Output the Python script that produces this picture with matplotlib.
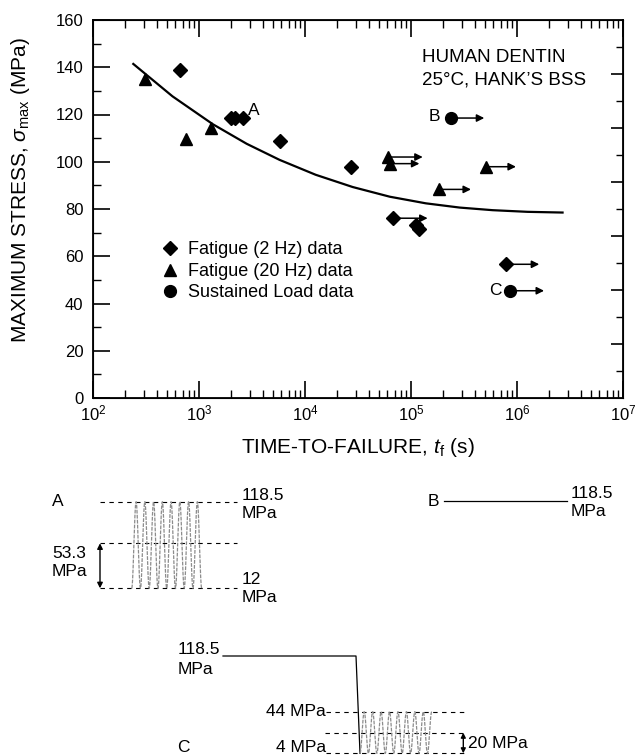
import numpy as np
import matplotlib
matplotlib.use('Agg')
import matplotlib.pyplot as plt
from matplotlib.lines import Line2D
from matplotlib.ticker import LogLocator, FixedLocator, NullFormatter, MultipleLocator

plt.rcParams['font.family'] = ['Liberation Sans', 'DejaVu Sans']
plt.rcParams['mathtext.fontset'] = 'custom'
plt.rcParams['mathtext.rm'] = 'Liberation Sans'
plt.rcParams['mathtext.it'] = 'Liberation Sans:italic'
plt.rcParams['mathtext.bf'] = 'Liberation Sans:bold'

# ---------------- data ----------------
fat2_t = [659, 2020, 2170, 2600, 5770, 27300, 67300, 112000, 120000, 787000]
fat2_s = [138.8, 118.5, 118.5, 118.5, 108.9, 97.6, 76.1, 73.2, 71.4, 56.6]

fat20_t = [309, 762, 1310, 61000, 64000, 185000, 509000]
fat20_s = [134.9, 109.5, 114.4, 102.0, 99.2, 88.3, 97.9]

sust_t = [238000, 858000]
sust_s = [118.5, 45.4]

# run-out arrows (start time, stress, end time)
runout_t = [67300, 787000, 61000, 64000, 185000, 509000, 238000, 858000]
runout_s = [76.1, 56.6, 102.0, 99.2, 88.3, 97.9, 118.5, 45.4]
runout_end = [143500, 1.62e6, 129000, 120000, 368000, 977000, 491000, 1.80e6]

# fitted curve
curve_t = [240, 562, 1349, 2818, 5754, 12589, 28184, 63096, 138038, 288403, 588844, 1.259e6, 2.69e6]
curve_s = [141.4, 127.7, 115.9, 107.6, 100.8, 94.5, 89.3, 85.2, 82.4, 80.6, 79.5, 78.8, 78.5]

point_labels = ['A', 'B', 'C']
point_label_t = [3280, 166000, 624000]
point_label_s = [121.5, 119.0, 45.4]

legend_labels = ['Fatigue (2 Hz) data', 'Fatigue (20 Hz) data', 'Sustained Load data']
x_ticks = [1e2, 1e3, 1e4, 1e5, 1e6, 1e7]
y_ticks = [0, 20, 40, 60, 80, 100, 120, 140, 160]

# ---------------- figure ----------------
W, H = 635, 756
fig = plt.figure(figsize=(W / 100, H / 100), dpi=100)

# schematic overlay in pixel coordinates
sk = fig.add_axes([0, 0, 1, 1])
sk.set_xlim(0, W)
sk.set_ylim(H, 0)
sk.axis('off')

ax = fig.add_axes([93 / W, 1 - 398 / H, 530 / W, 378 / H])
ax.set_xscale('log')
ax.set_xlim(1e2, 1e7)
ax.set_ylim(0, 160)

ax.plot(curve_t, curve_s, color='k', lw=1.6, zorder=2, solid_joinstyle='round')
ax.plot(fat2_t, fat2_s, ls='none', marker='D', ms=7, color='k', zorder=3)
ax.plot(fat20_t, fat20_s, ls='none', marker='^', ms=9, color='k', zorder=3)
ax.plot(sust_t, sust_s, ls='none', marker='o', ms=8.5, color='k', zorder=3)

for t0, s, t1 in zip(runout_t, runout_s, runout_end):
    ax.annotate('', xy=(t1, s), xytext=(t0, s),
                arrowprops=dict(arrowstyle='-|>', color='k', lw=1.1,
                                mutation_scale=11, shrinkA=0, shrinkB=0))

for lab, t, s in zip(point_labels, point_label_t, point_label_s):
    ax.text(t, s, lab, fontsize=12.5, ha='center', va='center')

ax.text(0.62, 0.90, 'HUMAN DENTIN', transform=ax.transAxes, fontsize=13.5,
        ha='left', va='center')
ax.text(0.62, 0.841, '25\u00b0C, HANK\u2019S BSS', transform=ax.transAxes, fontsize=13.5,
        ha='left', va='center')

handles = [Line2D([], [], ls='none', marker='D', ms=7, color='k'),
           Line2D([], [], ls='none', marker='^', ms=9, color='k'),
           Line2D([], [], ls='none', marker='o', ms=8.5, color='k')]
ax.legend(handles, legend_labels, loc='center left', bbox_to_anchor=(0.128, 0.335),
          frameon=False, fontsize=13, handlelength=1.0, handletextpad=0.5,
          labelspacing=0.25, borderaxespad=0, borderpad=0)

# ticks
ax.xaxis.set_major_locator(FixedLocator(x_ticks))
ax.xaxis.set_minor_locator(LogLocator(base=10, subs=np.arange(2, 10), numticks=20))
ax.xaxis.set_minor_formatter(NullFormatter())
ax.yaxis.set_major_locator(FixedLocator(y_ticks))
ax.yaxis.set_minor_locator(MultipleLocator(10))
ax.tick_params(axis='x', which='major', direction='in', length=12, width=1.2,
               top=True, labelsize=12, pad=4)
ax.tick_params(axis='x', which='minor', direction='in', length=6, width=1.0, top=True)
ax.tick_params(axis='y', which='major', direction='in', length=12, width=1.2,
               labelsize=12, pad=7)
ax.tick_params(axis='y', which='minor', direction='in', length=6, width=1.0)
for sp in ax.spines.values():
    sp.set_linewidth(1.3)

# right-hand tick marks
ax2 = ax.twinx()
ax2.set_ylim(0, 14)
ax2.yaxis.set_major_locator(FixedLocator([2, 4, 6, 8, 10, 12]))
ax2.yaxis.set_minor_locator(FixedLocator([1, 3, 5, 7, 9, 11, 13]))
ax2.tick_params(axis='y', which='major', direction='in', length=9, width=1.2, labelright=False)
ax2.tick_params(axis='y', which='minor', direction='in', length=5, width=1.0)
ax2.set_yticklabels([])

ax.set_xlabel('TIME-TO-FAILURE, $t_{\\mathrm{f}}$ (s)', fontsize=15)
ax.xaxis.set_label_coords(0.5, -0.1)
ax.set_ylabel('MAXIMUM STRESS, $\\sigma_{\\mathrm{max}}$ (MPa)', fontsize=15)
ax.yaxis.set_label_coords(-0.115, 0.55)

# ---------------- schematics (not to scale) ----------------
fs = 12.5
dash = (0, (4, 4))
wave_col = '0.55'

# Panel A: cyclic loading
sk.text(58, 502, 'A', fontsize=fs, ha='center', va='center')
for yy in (501.7, 543.3, 588.3):
    sk.plot([100, 237], [yy, yy], color='k', lw=0.8, ls=dash)
nA = 8
u = np.linspace(0, 1, 800)
xa = 131.7 + 70 * u
ya = (501.7 + 588.3) / 2 + (588.3 - 501.7) / 2 * np.cos(2 * np.pi * nA * u)
sk.plot(xa, ya, color=wave_col, lw=0.9, ls=(0, (3, 1)))
sk.text(242, 496, '118.5', fontsize=fs, ha='left', va='center')
sk.text(242, 514, 'MPa', fontsize=fs, ha='left', va='center')
sk.text(242, 579, '12', fontsize=fs, ha='left', va='center')
sk.text(242, 597, 'MPa', fontsize=fs, ha='left', va='center')
sk.text(52, 554, '53.3', fontsize=fs, ha='left', va='center')
sk.text(52, 572, 'MPa', fontsize=fs, ha='left', va='center')
sk.annotate('', xy=(100, 543.3), xytext=(100, 588.3),
            arrowprops=dict(arrowstyle='<|-|>', color='k', lw=1.0,
                            mutation_scale=8, shrinkA=0, shrinkB=0))

# Panel B: sustained load
sk.text(433, 501, 'B', fontsize=fs, ha='center', va='center')
sk.plot([444, 567], [500.7, 500.7], color='k', lw=0.9)
sk.text(571, 493, '118.5', fontsize=fs, ha='left', va='center')
sk.text(571, 511, 'MPa', fontsize=fs, ha='left', va='center')

# Panel C: sustained then cyclic
sk.text(183, 747, 'C', fontsize=fs, ha='center', va='center')
sk.text(178, 650, '118.5', fontsize=fs, ha='left', va='center')
sk.text(178, 669, 'MPa', fontsize=fs, ha='left', va='center')
sk.plot([223, 356, 360], [656, 656, 753.3], color='k', lw=0.9)
sk.text(326, 711.7, '44 MPa', fontsize=fs, ha='right', va='center')
sk.text(326, 748, '4 MPa', fontsize=fs, ha='right', va='center')
sk.plot([326, 467], [711.7, 711.7], color='k', lw=0.8, ls=dash)
sk.plot([325, 467], [732.7, 732.7], color='k', lw=0.8, ls=dash)
sk.plot([326, 467], [753.3, 753.3], color='k', lw=0.8, ls=dash)
nC = 8.5
xc = 360 + 71.7 * u
yc = (711.7 + 753.3) / 2 + (753.3 - 711.7) / 2 * np.cos(2 * np.pi * nC * u)
sk.plot(xc, yc, color=wave_col, lw=0.9, ls=(0, (3, 1)))
sk.annotate('', xy=(463.3, 732.7), xytext=(463.3, 753.3),
            arrowprops=dict(arrowstyle='<|-|>', color='k', lw=1.0,
                            mutation_scale=7, shrinkA=0, shrinkB=0))
sk.text(468, 743, '20 MPa', fontsize=fs, ha='left', va='center')

fig.savefig('out.png', dpi=100)
